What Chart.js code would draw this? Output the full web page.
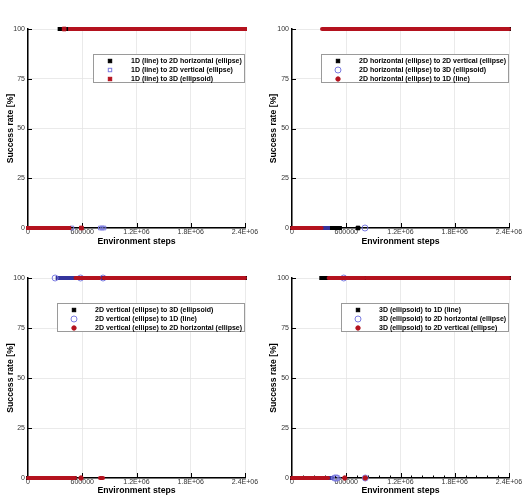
<!DOCTYPE html>
<html>
<head>
<meta charset="utf-8">
<script src="https://cdn.jsdelivr.net/npm/chart.js@4.4.0/dist/chart.umd.min.js"></script>
<style>
  body { margin: 0; background: #fff; }
  #wrap { position: relative; width: 525px; height: 503px; }
  canvas { position: absolute; }
</style>
</head>
<body>
<div id="wrap">
  <canvas id="c0" width="262" height="250" style="left:0;top:0"></canvas>
  <canvas id="c1" width="263" height="250" style="left:262px;top:0"></canvas>
  <canvas id="c2" width="262" height="253" style="left:0;top:250px"></canvas>
  <canvas id="c3" width="263" height="253" style="left:262px;top:250px"></canvas>
</div>
<script>
// ── Axis ticks ────────────────────────────────────────────────────────────
const xTickValues = [0, 600000, 1200000, 1800000, 2400000];
const xTickLabels = ['0', '600000', '1.2E+06', '1.8E+06', '2.4E+06'];
const yTickValues = [0, 25, 50, 75, 100];
const yTickLabels = ['0', '25', '50', '75', '100'];

// ── Legend labels per panel ───────────────────────────────────────────────
const labelsTL = ['1D (line) to 2D horizontal (ellipse)', '1D (line) to 2D vertical (ellipse)', '1D (line) to 3D (ellipsoid)'];
const labelsTR = ['2D horizontal (ellipse) to 2D vertical (ellipse)', '2D horizontal (ellipse) to 3D (ellipsoid)', '2D horizontal (ellipse) to 1D (line)'];
const labelsBL = ['2D vertical (ellipse) to 3D (ellipsoid)', '2D vertical (ellipse) to 1D (line)', '2D vertical (ellipse) to 2D horizontal (ellipse)'];
const labelsBR = ['3D (ellipsoid) to 1D (line)', '3D (ellipsoid) to 2D horizontal (ellipse)', '3D (ellipsoid) to 2D vertical (ellipse)'];

// ── Success rate runs: [first step, last step, success rate %] ───────────
// a run with first == last is a single evaluation, drawn as a marker
const tlHoriz = [[0, 340000, 0], [350000, 2400000, 100]];
const tlVert  = [[0, 470000, 0], [485000, 485000, 0], [800000, 800000, 0], [820000, 820000, 0], [840000, 840000, 0], [860000, 2400000, 100]];
const tl3D    = [[0, 455000, 0], [590000, 590000, 0], [400000, 400000, 100], [465000, 580000, 100], [600000, 2400000, 100]];

const trVert  = [[0, 530000, 0], [730000, 730000, 0], [540000, 720000, 100], [740000, 2400000, 100]];
const tr3D    = [[0, 420000, 0], [807000, 807000, 0], [430000, 800000, 100], [815000, 2400000, 100]];
const trLine  = [[0, 328000, 0], [332000, 2400000, 100]];

const bl3D    = [[0, 515000, 0], [525000, 2400000, 100]];
const blLine  = [[0, 295000, 0], [300000, 300000, 100], [306000, 575000, 100], [581000, 581000, 100], [590000, 825000, 100], [830000, 830000, 100], [836000, 2400000, 100]];
const blHoriz = [[0, 520000, 0], [586000, 586000, 0], [796000, 830000, 0], [525000, 580000, 100], [592000, 790000, 100], [836000, 2400000, 100]];

const br1D    = [[0, 320000, 0], [324000, 2400000, 100]];
const brHoriz = [[0, 460000, 0], [470000, 470000, 0], [485000, 485000, 0], [500000, 500000, 0], [572000, 572000, 100], [580000, 800000, 100], [810000, 810000, 0], [820000, 2400000, 100]];
const brVert  = [[0, 400000, 0], [583000, 583000, 0], [810000, 810000, 0], [405000, 575000, 100], [590000, 800000, 100], [820000, 2400000, 100]];

// ── Styles ────────────────────────────────────────────────────────────────
const FONT = '"Liberation Sans", Arial, Helvetica, sans-serif';
const BLACK = { line: '#000000', fill: '#000000', stroke: '#000000', style: 'rect',   radius: 2.6, cap: 'square' };
const BLUE  = { line: '#34349c', fill: 'rgba(255,255,255,0)', stroke: '#7b7be0', style: 'circle', radius: 3, cap: 'butt' };
const BLUESQ = { ...BLUE, style: 'rect', radius: 2.6 };
const RED   = { line: '#b4121e', fill: '#b4121e', stroke: '#b4121e', style: 'circle', radius: 2.2, cap: 'round' };
const REDSQ = { ...RED, style: 'rect', radius: 2.6, cap: 'square' };

function toPoints(segs) {
    return segs.flatMap(([a, b, y]) => a === b
        ? [{ x: a, y: y, single: true }, { x: a, y: null }]
        : [{ x: a, y: y }, { x: b, y: y }, { x: b, y: null }]);
}

// inward tick marks (major on both axes, minor on x where the panel has them)
const tickPlugin = {
    id: 'inwardTicks',
    beforeDatasetsDraw(chart, args, opts) {
        const ctx = chart.ctx, a = chart.chartArea;
        const xs = chart.scales.x, ys = chart.scales.y;
        ctx.save();
        ctx.strokeStyle = '#000';
        ctx.lineWidth = 1;
        ctx.beginPath();
        for (let v = 120000; v < 2400000 + 1; v += 120000) {
            const major = xTickValues.includes(v);
            if (!major && !opts.minor) continue;
            const px = Math.round(xs.getPixelForValue(v)) + 0.5;
            ctx.moveTo(px, a.bottom);
            ctx.lineTo(px, a.bottom - (major ? 5 : 2.5));
        }
        yTickValues.forEach(v => {
            const py = Math.round(ys.getPixelForValue(v)) + 0.5;
            ctx.moveTo(a.left, py);
            ctx.lineTo(a.left + 4, py);
        });
        ctx.stroke();
        ctx.restore();
    }
};

// boxed legend inside the plot
const legendPlugin = {
    id: 'boxLegend',
    afterDraw(chart, args, opts) {
        const ctx = chart.ctx, a = chart.chartArea;
        const ds = chart.data.datasets;
        ctx.save();
        ctx.font = 'bold 7px ' + FONT;
        const tw = Math.max(...ds.map(d => ctx.measureText(d.label).width));
        const right = a.right, left = Math.round(right - tw - 41), top = opts.top, h = 28;
        ctx.fillStyle = '#fff';
        ctx.fillRect(left, top, right - left, h);
        ctx.strokeStyle = '#9a9a9a';
        ctx.lineWidth = 1;
        ctx.strokeRect(left + 0.5, top + 0.5, right - left - 1, h);
        ds.forEach((d, i) => {
            const y = top + 7 + i * 9, x = left + 17;
            ctx.fillStyle = d.markerFill;
            ctx.strokeStyle = d.pointBorderColor;
            ctx.lineWidth = 1;
            if (d.pointStyle === 'rect') {
                const s = 3.4;
                ctx.fillRect(x - s / 2, y - s / 2, s, s);
                ctx.strokeRect(x - s / 2, y - s / 2, s, s);
            } else {
                ctx.beginPath();
                ctx.arc(x, y, d.markerRadius, 0, Math.PI * 2);
                ctx.fill();
                ctx.stroke();
            }
            ctx.fillStyle = '#000';
            ctx.textBaseline = 'middle';
            ctx.fillText(d.label, left + 38, y + 0.5);
        });
        ctx.restore();
    }
};

function makePanel(id, p, labels, seriesData, seriesStyles) {
    const datasets = seriesData.map((segs, i) => {
        const s = seriesStyles[i];
        return {
            label: labels[i],
            data: toPoints(segs),
            showLine: true,
            spanGaps: false,
            borderColor: s.line,
            borderWidth: 4,
            borderCapStyle: s.cap,
            pointStyle: s.style,
            pointRadius: c => (c.raw && c.raw.single ? s.radius : 0),
            pointBackgroundColor: s.fill,
            pointBorderColor: s.stroke,
            pointBorderWidth: 1,
            markerFill: s.fill,
            markerRadius: s.radius,
            clip: false,
            order: 2 - i
        };
    });
    return new Chart(document.getElementById(id).getContext('2d'), {
        type: 'scatter',
        data: { datasets },
        plugins: [tickPlugin, legendPlugin],
        options: {
            responsive: false,
            animation: false,
            events: [],
            layout: { padding: { left: 0, top: p.top, right: p.w - p.right, bottom: 0 } },
            plugins: {
                legend: { display: false },
                tooltip: { enabled: false },
                boxLegend: { top: p.legendTop },
                inwardTicks: { minor: p.minor }
            },
            scales: {
                x: {
                    type: 'linear', min: 0, max: 2400000,
                    afterBuildTicks: s => { s.ticks = xTickValues.map(v => ({ value: v })); },
                    afterFit: s => { s.height = p.h - p.bottom; },
                    ticks: { callback: (v, i) => xTickLabels[i], font: { size: 7, family: FONT }, color: '#333', padding: 0, maxRotation: 0, autoSkip: false },
                    grid: { color: '#e4e4e4', lineWidth: 0.8, drawTicks: false },
                    border: { color: '#000', width: 1.5 },
                    title: { display: true, text: 'Environment steps', color: '#000', font: { size: 8.7, weight: 'bold', family: FONT }, padding: { top: 0, bottom: p.xtPad } }
                },
                y: {
                    type: 'linear', min: 0, max: 100,
                    afterBuildTicks: s => { s.ticks = yTickValues.map(v => ({ value: v })); },
                    afterFit: s => { s.width = p.left; },
                    ticks: { callback: (v, i) => yTickLabels[i], font: { size: 7, family: FONT }, color: '#333', padding: 3 },
                    grid: { color: '#e4e4e4', lineWidth: 0.8, drawTicks: false },
                    border: { color: '#000', width: 1.5 },
                    title: { display: true, text: 'Success rate [%]', color: '#000', font: { size: 8.7, weight: 'bold', family: FONT }, padding: { top: p.ytPad, bottom: 0 } }
                }
            }
        }
    });
}

makePanel('c0', { w: 262, h: 250, left: 28, right: 245, top: 29, bottom: 228, xtPad: 3.1, ytPad: 5, legendTop: 54, minor: false },
    labelsTL, [tlHoriz, tlVert, tl3D], [BLACK, BLUESQ, REDSQ]);
makePanel('c1', { w: 263, h: 250, left: 30, right: 247, top: 29, bottom: 228, xtPad: 3.1, ytPad: 6.5, legendTop: 54, minor: false },
    labelsTR, [trVert, tr3D, trLine], [BLACK, BLUE, RED]);
makePanel('c2', { w: 262, h: 253, left: 28, right: 245, top: 28, bottom: 228, xtPad: 7.1, ytPad: 5, legendTop: 53, minor: false },
    labelsBL, [bl3D, blLine, blHoriz], [BLACK, BLUE, RED]);
makePanel('c3', { w: 263, h: 253, left: 30, right: 247, top: 28, bottom: 228, xtPad: 7.1, ytPad: 6.5, legendTop: 53, minor: true },
    labelsBR, [br1D, brHoriz, brVert], [BLACK, BLUE, RED]);
</script>
</body>
</html>
